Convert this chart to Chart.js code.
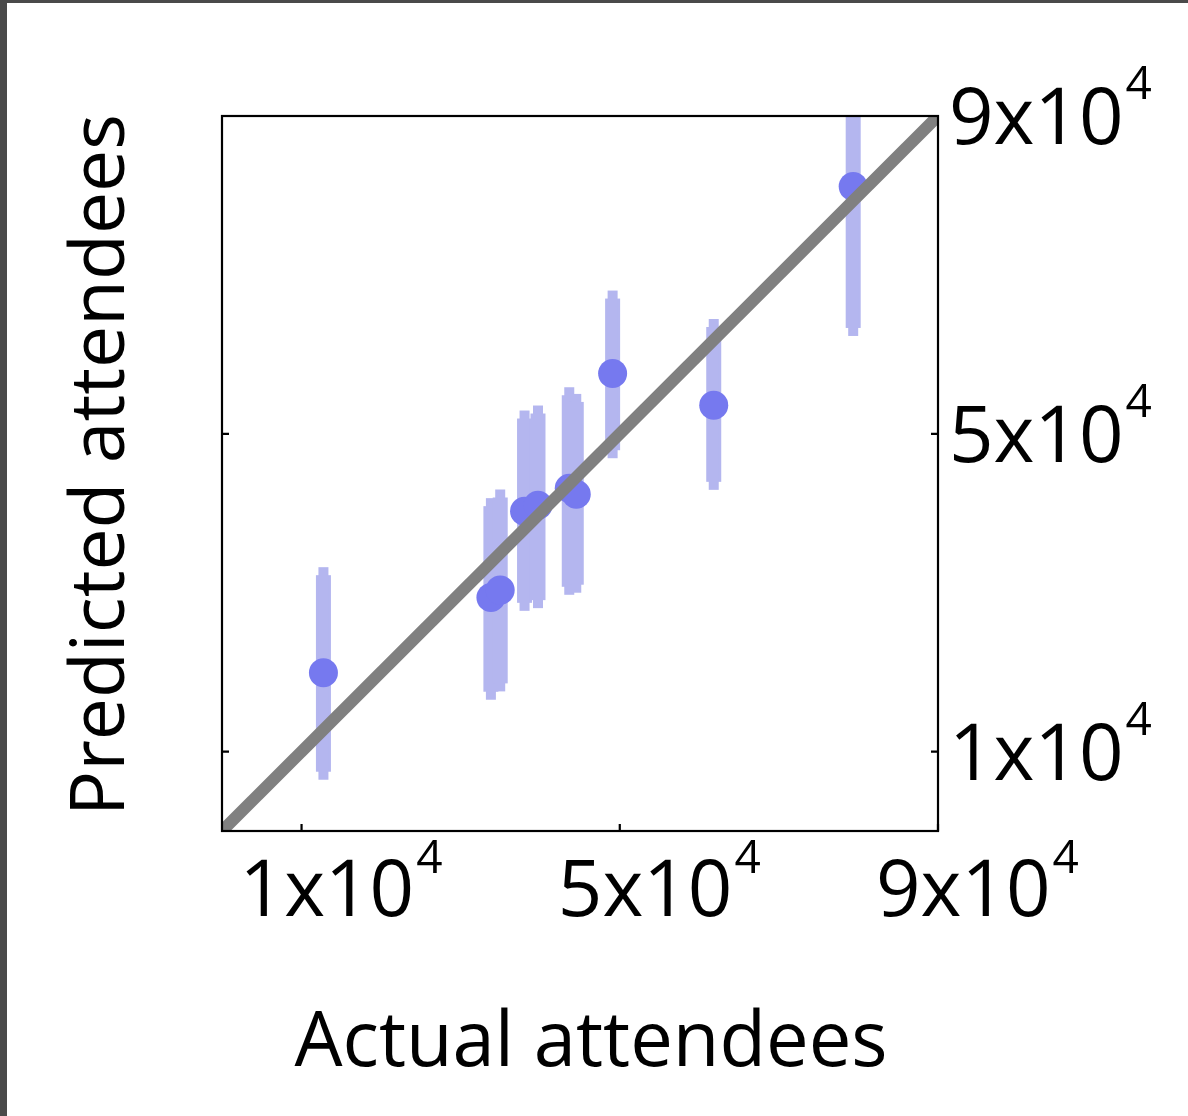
<!DOCTYPE html>
<html>
<head>
  <meta charset="utf-8">
  <title>Predicted vs actual attendees</title>
  <script src="https://cdn.jsdelivr.net/npm/chart.js@4.4.0/dist/chart.umd.min.js"></script>
  <style>
    html, body {
      margin: 0;
      padding: 0;
      background: #fff;
      overflow: hidden;
    }
    #frameLeft {
      position: absolute; left: 0; top: 0;
      width: 7px; height: 1116px;
      background: #4a4a4a;
    }
    #frameTop {
      position: absolute; left: 0; top: 0;
      width: 1188px; height: 3px;
      background: #4a4a4a;
    }
    #chart {
      position: absolute; left: 0; top: 0;
    }
  </style>
</head>
<body>
  <canvas id="chart" width="1188" height="1116"></canvas>
  <div id="frameLeft"></div>
  <div id="frameTop"></div>
  <script>
    // values
    const actual    = [12750, 33800, 34970, 38030, 39720, 43650, 44530, 49100, 61810, 79340];
    const predicted = [19920, 29400, 30320, 40260, 41010, 43150, 42400, 57580, 53590, 81140];
    const lower     = [ 7460, 17530, 18580, 28720, 29060, 30740, 31000, 47930, 43950, 63320];
    const upper     = [32200, 40890, 41980, 51920, 52550, 54850, 54010, 67020, 63440, 97000];
    const tickValues = [10000, 50000, 90000];
    const tickMantissa = ['1', '5', '9'];
    const tickExponent = '4';
    const axisMin = 0, axisMax = 90000;

    const FONT = '"Open Sans", sans-serif';
    const barColor = '#b4b6ef';
    const pointColor = '#7679ef';

    function drawPow(ctx, mant, x, y, supY) {
      // "Mx10" with raised exponent
      ctx.font = '78px ' + FONT;
      ctx.textAlign = 'left';
      ctx.textBaseline = 'alphabetic';
      const base = mant + 'x10';
      ctx.fillText(base, x, y);
      const w = ctx.measureText(base).width;
      ctx.font = '46px ' + FONT;
      ctx.fillText(tickExponent, x + w + 2, supY);
    }

    const errorBars = {
      id: 'errorBars',
      beforeDatasetsDraw(chart) {
        const {ctx, chartArea, scales: {x, y}} = chart;
        ctx.save();
        ctx.beginPath();
        ctx.rect(chartArea.left, chartArea.top, chartArea.width, chartArea.height);
        ctx.clip();
        ctx.fillStyle = barColor;
        for (let i = 0; i < actual.length; i++) {
          const px = x.getPixelForValue(actual[i]);
          const top = y.getPixelForValue(upper[i]);
          const bot = y.getPixelForValue(lower[i]);
          ctx.fillRect(px - 7.5, top, 15, bot - top);
          ctx.fillRect(px - 5, top - 8, 10, bot - top + 16);
        }
        ctx.restore();
      }
    };

    const frame = {
      id: 'frame',
      afterDraw(chart) {
        const {ctx, chartArea: a, scales: {x, y}} = chart;
        ctx.save();
        ctx.strokeStyle = '#000';
        ctx.lineWidth = 2.2;
        ctx.strokeRect(a.left, a.top, a.width, a.height);
        ctx.beginPath();
        tickValues.forEach(v => {
          const px = x.getPixelForValue(v);
          const py = y.getPixelForValue(v);
          ctx.moveTo(px, a.bottom); ctx.lineTo(px, a.bottom - 7);
          ctx.moveTo(a.left, py); ctx.lineTo(a.left + 7, py);
          ctx.moveTo(a.right, py); ctx.lineTo(a.right - 7, py);
        });
        ctx.stroke();

        ctx.fillStyle = '#000';
        tickValues.forEach((v, i) => {
          const py = y.getPixelForValue(v);
          drawPow(ctx, tickMantissa[i], a.right + 11, py + 28, py - 17);
          const px = x.getPixelForValue(v);
          drawPow(ctx, tickMantissa[i], px - 62, a.bottom + 85, a.bottom + 42);
        });

        ctx.textAlign = 'center';
        ctx.textBaseline = 'alphabetic';
        ctx.font = '76px ' + FONT;
        ctx.fillText('Actual attendees', 591, 1066);
        ctx.font = '75px ' + FONT;
        ctx.translate(124, 465);
        ctx.rotate(-Math.PI / 2);
        ctx.fillText('Predicted attendees', 0, 0);
        ctx.restore();
      }
    };

    const points = actual.map((v, i) => ({x: v, y: predicted[i]}));

    new Chart(document.getElementById('chart').getContext('2d'), {
      type: 'scatter',
      data: {
        datasets: [
          {
            label: 'identity',
            data: [{x: axisMin, y: axisMin}, {x: axisMax, y: axisMax}],
            showLine: true,
            borderColor: '#808080',
            borderWidth: 12,
            pointRadius: 0,
            clip: 0,
            order: 0
          },
          {
            label: 'prediction',
            data: points,
            backgroundColor: pointColor,
            borderWidth: 0,
            pointRadius: 14.5,
            clip: 0,
            order: 1
          }
        ]
      },
      options: {
        responsive: false,
        animation: false,
        layout: { padding: { left: 222, right: 250, top: 116, bottom: 285 } },
        plugins: { legend: { display: false }, tooltip: { enabled: false } },
        scales: {
          x: { type: 'linear', min: axisMin, max: axisMax, display: false },
          y: { type: 'linear', min: axisMin, max: axisMax, display: false }
        }
      },
      plugins: [errorBars, frame]
    });
  </script>
</body>
</html>
